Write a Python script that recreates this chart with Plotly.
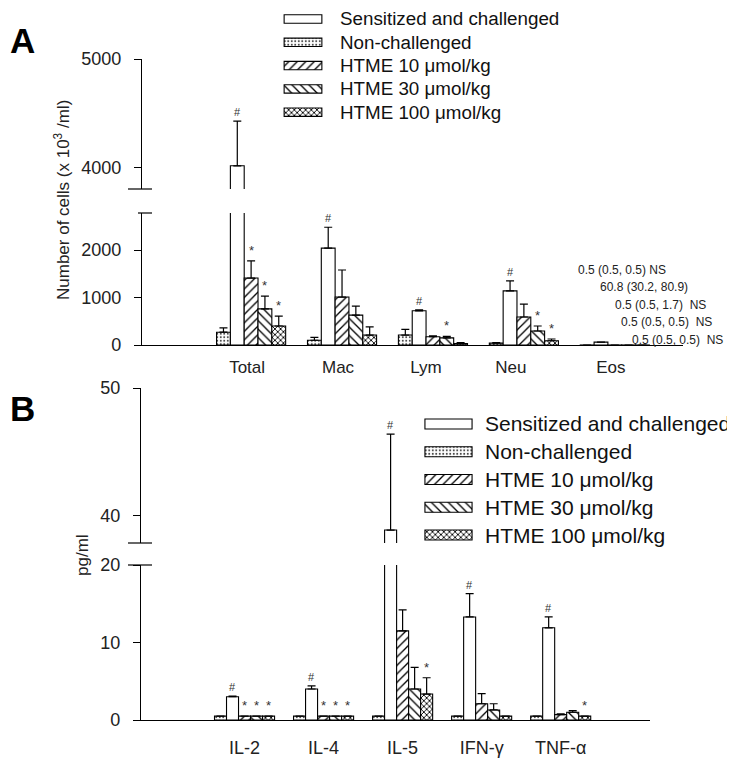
import plotly.graph_objects as go

# page body has an 8px margin: the figure is sized so that it ends at the window edge
OX, OY = 8, 8
W, H = 735 - OX, 761 - OY
FONT = "Liberation Sans, Arial, sans-serif"

# ---------------- data ----------------
series_names = ["Non-challenged", "Sensitized and challenged",
                "HTME 10 \u03bcmol/kg", "HTME 30 \u03bcmol/kg", "HTME 100 \u03bcmol/kg"]
legend_order = [1, 0, 2, 3, 4]

# Panel A : BALF cells (x 10^3 /ml)
cell_types = ["Total", "Mac", "Lym", "Neu", "Eos"]
cells_nonchal = [270, 100, 210, 40, 0.5]
cells_nonchal_err = [90, 60, 120, 10, 0]
cells_sens = [4020, 2040, 720, 1140, 60.8]
cells_sens_err = [410, 440, 20, 210, 0]
cells_h10 = [1410, 1010, 175, 590, 0.5]
cells_h10_err = [360, 570, 20, 270, 0]
cells_h30 = [760, 630, 150, 295, 0.5]
cells_h30_err = [270, 190, 30, 105, 0]
cells_h100 = [400, 210, 30, 90, 0.5]
cells_h100_err = [210, 170, 20, 36, 0]
cells_marks_nonchal = ["", "", "", "", ""]
cells_marks_sens = ["#", "#", "#", "#", ""]
cells_marks_h10 = ["*", "", "", "", ""]
cells_marks_h30 = ["*", "", "*", "*", ""]
cells_marks_h100 = ["*", "", "", "*", ""]
eos_notes = ["0.5 (0.5, 0.5) NS", "60.8 (30.2, 80.9)", "0.5 (0.5, 1.7)\u00a0 NS",
             "0.5 (0.5, 0.5)\u00a0 NS", "0.5 (0.5, 0.5)\u00a0 NS"]

# Panel B : cytokines (pg/ml)
cytokines = ["IL-2", "IL-4", "IL-5", "IFN-\u03b3", "TNF-\u03b1"]
cyt_nonchal = [0.5, 0.5, 0.5, 0.5, 0.5]
cyt_nonchal_err = [0, 0, 0, 0, 0]
cyt_sens = [3.0, 4.0, 38.9, 13.3, 11.9]
cyt_sens_err = [0.1, 0.4, 7.5, 3.0, 1.4]
cyt_h10 = [0.5, 0.5, 11.5, 2.1, 0.7]
cyt_h10_err = [0, 0, 2.7, 1.3, 0.1]
cyt_h30 = [0.5, 0.5, 4.0, 1.3, 1.0]
cyt_h30_err = [0, 0, 2.8, 0.8, 0.2]
cyt_h100 = [0.5, 0.5, 3.35, 0.5, 0.5]
cyt_h100_err = [0, 0, 2.1, 0, 0]
cyt_marks_nonchal = ["", "", "", "", ""]
cyt_marks_sens = ["#", "#", "#", "#", "#"]
cyt_marks_h10 = ["*", "*", "", "", ""]
cyt_marks_h30 = ["*", "*", "", "", ""]
cyt_marks_h100 = ["*", "*", "*", "", "*"]

# ---------------- styles ----------------
patterns = [
    dict(shape=".", size=3.5, solidity=0.25, fg="#444"),
    dict(shape="", size=6, solidity=0.2, fg="black"),
    dict(shape="/", size=6, solidity=0.22, fg="black"),
    dict(shape="\\", size=6, solidity=0.22, fg="black"),
    dict(shape="x", size=4, solidity=0.4, fg="black"),
]
BARGAP = 0.24
# small shifts of the category labels relative to the bar groups (in category units)
cell_label_shift = [-0.044, -0.044, -0.077, -0.143, -0.044]


def fx(px):
    return min(1.0, max(0.0, (px - OX) / W))


def fy(py):
    return min(1.0, max(0.0, 1 - (py - OY) / H))


fig = go.Figure()


def add_panel(xl, yl, xu, yu, cats, vals, errs, marks, lower_max):
    n = len(vals)
    w = (1 - BARGAP) / n
    xs = list(range(len(cats)))
    for xa, ya in ((xl, yl), (xu, yu)):
        for j in range(n):
            p = patterns[j]
            fig.add_trace(go.Bar(
                x=xs, y=vals[j], xaxis=xa, yaxis=ya, showlegend=False,
                name=series_names[j],
                marker=dict(color="white", line=dict(color="black", width=1.1),
                            pattern=dict(shape=p["shape"], size=p["size"], solidity=p["solidity"],
                                         fgcolor=p["fg"], bgcolor="white", fillmode="replace")),
                error_y=dict(type="data", symmetric=False, array=errs[j],
                             arrayminus=[0] * len(cats), color="black", thickness=1.2, width=4),
                hoverinfo="skip"))
    anns = []
    for j in range(n):
        for i in range(len(cats)):
            m = marks[j][i]
            if not m:
                continue
            top = vals[j][i] + errs[j][i]
            upper = top > lower_max
            anns.append(dict(
                x=i + (j - (n - 1) / 2) * w, y=top,
                xref=xu if upper else xl, yref=yu if upper else yl,
                text=m, showarrow=False, xanchor="center", yanchor="bottom", yshift=1,
                font=dict(family=FONT, size=11 if m == "#" else 13, color="#333")))
    return anns


annotations = []
annotations += add_panel("x", "y", "x2", "y2", cell_types,
                         [cells_nonchal, cells_sens, cells_h10, cells_h30, cells_h100],
                         [cells_nonchal_err, cells_sens_err, cells_h10_err, cells_h30_err, cells_h100_err],
                         [cells_marks_nonchal, cells_marks_sens, cells_marks_h10, cells_marks_h30, cells_marks_h100],
                         2780)
annotations += add_panel("x3", "y3", "x4", "y4", cytokines,
                         [cyt_nonchal, cyt_sens, cyt_h10, cyt_h30, cyt_h100],
                         [cyt_nonchal_err, cyt_sens_err, cyt_h10_err, cyt_h30_err, cyt_h100_err],
                         [cyt_marks_nonchal, cyt_marks_sens, cyt_marks_h10, cyt_marks_h30, cyt_marks_h100],
                         20)


# ---------------- custom legends ----------------
def add_legend(xa, ya, size_font, text_x, rows_y):
    names = [series_names[k] for k in legend_order]
    pats = [patterns[k] for k in legend_order]
    fig.add_trace(go.Bar(
        y=list(range(len(names))), x=[1] * len(names), orientation="h",
        xaxis=xa, yaxis=ya, width=0.36, showlegend=False, hoverinfo="skip",
        marker=dict(color="white", line=dict(color="black", width=1.1),
                    pattern=dict(shape=[p["shape"] for p in pats], size=[p["size"] for p in pats],
                                 solidity=[p["solidity"] for p in pats],
                                 fgcolor=[p["fg"] for p in pats], bgcolor="white",
                                 fillmode="replace"))))
    out = []
    for k, nm in enumerate(names):
        out.append(dict(x=fx(text_x), y=fy(rows_y[k]), xref="paper", yref="paper",
                        text=nm, showarrow=False, xanchor="left", yanchor="middle",
                        font=dict(family=FONT, size=size_font, color="#111")))
    return out


def legend_yaxis(rows_y):
    sp = rows_y[1] - rows_y[0]
    top = max(rows_y[0] - sp / 2, OY)
    bot = rows_y[-1] + sp / 2
    return dict(visible=False, domain=[fy(bot), fy(top)],
                range=[(bot - rows_y[0]) / sp, (top - rows_y[0]) / sp],
                fixedrange=True, automargin=False)


rowsA = [19 + 23.3 * k for k in range(5)]
rowsB = [424 + 27.75 * k for k in range(5)]
annotations += add_legend("x5", "y5", 18.8, 338, rowsA)
annotations += add_legend("x6", "y6", 21, 483, rowsB)

# Eos numeric notes
note_x = [576, 598, 613, 619, 630]
note_y = [270, 287, 305, 322, 340]
for t, nx, ny in zip(eos_notes, note_x, note_y):
    annotations.append(dict(x=fx(nx), y=fy(ny), xref="paper", yref="paper", text=t,
                            showarrow=False, xanchor="left", yanchor="middle",
                            font=dict(family=FONT, size=12, color="#222")))

# axis titles and panel letters
annotations.append(dict(x=fx(62), y=fy(200), xref="paper", yref="paper",
                        text="Number of cells (x 10<sup>3</sup> /ml)", textangle=-90,
                        xanchor="center", yanchor="middle",
                        showarrow=False, font=dict(family=FONT, size=17, color="#222")))
annotations.append(dict(x=fx(82), y=fy(555), xref="paper", yref="paper", text="pg/ml",
                        textangle=-90, xanchor="center", yanchor="middle",
                        showarrow=False, font=dict(family=FONT, size=17, color="#222")))
annotations.append(dict(x=fx(8), y=fy(41), xref="paper", yref="paper", text="<b>A</b>",
                        xanchor="left", yanchor="middle",
                        showarrow=False, font=dict(family=FONT, size=35, color="black")))
annotations.append(dict(x=fx(8), y=fy(408), xref="paper", yref="paper", text="<b>B</b>",
                        xanchor="left", yanchor="middle",
                        showarrow=False, font=dict(family=FONT, size=35, color="black")))

# ---------------- axes ----------------
tickfont = dict(family=FONT, size=18, color="#222")
yax = dict(showline=True, linecolor="black", linewidth=1.2, ticks="outside", ticklen=7,
           tickcolor="black", tickwidth=1.2, showgrid=False, zeroline=False, automargin=False,
           tickfont=tickfont, ticklabelstandoff=9, fixedrange=True)
xax_hidden = dict(visible=False, fixedrange=True, automargin=False)

A_x0, A_x1 = 142, 683
B_x0, B_x1 = 141, 650
layout = dict(
    width=W, height=H, margin=dict(l=0, r=0, t=0, b=0, autoexpand=False),
    paper_bgcolor="white", plot_bgcolor="white",
    barmode="group", bargap=BARGAP, bargroupgap=0, showlegend=False,
    xaxis=dict(domain=[fx(A_x0), fx(A_x1)], anchor="y", range=[-1.2, 4.75],
               showline=True, linecolor="black", linewidth=1.2, ticks="outside", ticklen=6,
               tickcolor="rgba(0,0,0,0)",
               tickvals=[i + s for i, s in enumerate(cell_label_shift)], ticktext=cell_types,
               tickfont=dict(family=FONT, size=17, color="#222"), showgrid=False, zeroline=False,
               automargin=False, fixedrange=True),
    yaxis=dict(yax, domain=[fy(345), fy(213)], anchor="x", range=[0, 2780],
               tickvals=[0, 1000, 2000]),
    xaxis2=dict(xax_hidden, domain=[fx(A_x0), fx(A_x1)], anchor="y2", matches="x"),
    yaxis2=dict(yax, domain=[fy(189), fy(59)], anchor="x2", range=[3807, 5000],
                tickvals=[4000, 5000]),
    xaxis3=dict(domain=[fx(B_x0), fx(B_x1)], anchor="y3", range=[-1.31, 5.13],
                showline=True, linecolor="black", linewidth=1.2, ticks="outside", ticklen=11,
                tickcolor="rgba(0,0,0,0)", tickvals=list(range(5)), ticktext=cytokines,
                tickfont=dict(family=FONT, size=18, color="#222"), showgrid=False, zeroline=False,
                automargin=False, fixedrange=True),
    yaxis3=dict(yax, domain=[fy(720), fy(565)], anchor="x3", range=[0, 20],
                tickvals=[0, 10, 20]),
    xaxis4=dict(xax_hidden, domain=[fx(B_x0), fx(B_x1)], anchor="y4", matches="x3"),
    yaxis4=dict(yax, domain=[fy(543), fy(388)], anchor="x4", range=[37.89, 50],
                tickvals=[40, 50]),
    xaxis5=dict(xax_hidden, domain=[fx(283), fx(323)], anchor="y5", range=[-0.03, 1.03]),
    yaxis5=dict(legend_yaxis(rowsA), anchor="x5"),
    xaxis6=dict(xax_hidden, domain=[fx(424), fx(473)], anchor="y6", range=[-0.02, 1.02]),
    yaxis6=dict(legend_yaxis(rowsB), anchor="x6"),
    annotations=annotations,
)

# axis-break marks
shapes = []
for py, x0 in ((189, 128), (213, 138), (543, 128), (565, 128)):
    shapes.append(dict(type="line", xref="paper", yref="paper", x0=fx(x0), x1=fx(152),
                       y0=fy(py), y1=fy(py), line=dict(color="black", width=1.2)))
layout["shapes"] = shapes

fig.update_layout(**layout)
fig.write_html("out.html")
